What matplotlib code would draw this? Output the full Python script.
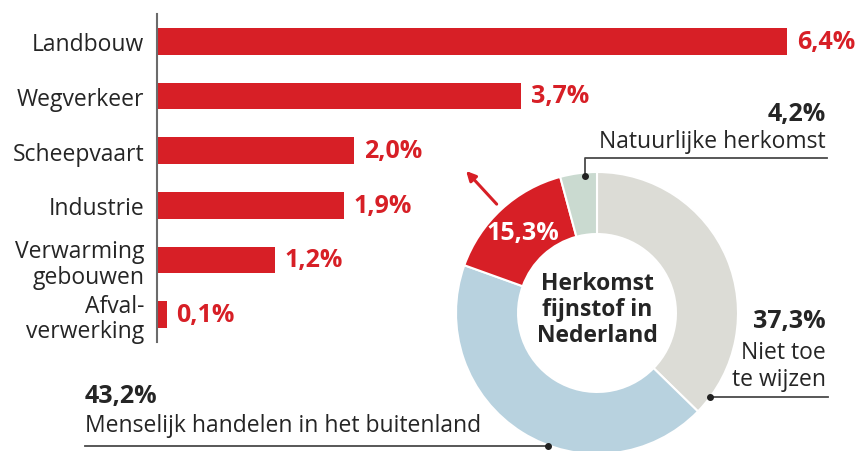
import matplotlib
matplotlib.use('Agg')
import matplotlib.pyplot as plt
import numpy as np

# bar chart: share per Dutch source
sectors = ['Landbouw', 'Wegverkeer', 'Scheepvaart', 'Industrie',
           'Verwarming\ngebouwen', 'Afval-\nverwerking']
sector_share = [6.4, 3.7, 2.0, 1.9, 1.2, 0.1]

# donut: origin of particulate matter
origin_names = ['Niet toe\nte wijzen', 'Menselijk handelen in het buitenland',
                'Nederland', 'Natuurlijke herkomst']
origin_share = [37.3, 43.2, 15.3, 4.2]

RED = '#d71f26'
DARK = '#252525'
LINE = '#4a4a4a'
ring_colors = ['#dcdcd6', '#b8d2df', RED, '#cadad0']

W, H = 860, 452
plt.rcParams['font.family'] = ['Open Sans', 'DejaVu Sans']
fig = plt.figure(figsize=(W / 100, H / 100), dpi=100)

REG = 16.5   # regular text
BIG = 18     # bold percentages


def pct(v):
    return f'{v:.1f}'.replace('.', ',') + '%'


# --- bars
ax = fig.add_axes([157 / W, 1 - 343 / H, (787 - 157) / W, (343 - 15) / H])
y = np.arange(len(sectors))
ax.barh(y, sector_share, height=0.49, color=RED)
ax.set_xlim(0, max(sector_share))
ax.set_ylim(len(sectors) - 0.5, -0.5)
ax.set_yticks(y, sectors, fontsize=REG, color=DARK, linespacing=1.1)
ax.tick_params(axis='y', length=0, pad=9)
ax.set_xticks([])
for side in ['top', 'right', 'bottom']:
    ax.spines[side].set_visible(False)
ax.spines['left'].set_color('#6b6b6b')
ax.spines['left'].set_linewidth(1.5)
ax.patch.set_visible(False)
for yi, v in zip(y, sector_share):
    ax.annotate(pct(v), (v, yi), xytext=(7, 0), textcoords='offset points',
                va='center', ha='left', color=RED, fontweight='bold',
                fontsize=BIG, annotation_clip=False)

# --- donut
R = 141
cx, cy = 597, 314
dax = fig.add_axes([(cx - R) / W, (H - cy - R) / H, 2 * R / W, 2 * R / H])
wedges, _ = dax.pie(origin_share, colors=ring_colors, startangle=90,
                    counterclock=False, radius=1,
                    wedgeprops=dict(width=0.44, edgecolor='white', linewidth=1.5))
dax.set_xlim(-1, 1)
dax.set_ylim(-1, 1)
dax.axis('off')

red = wedges[2]
mid = np.deg2rad((red.theta1 + red.theta2) / 2)
dax.text(0.78 * np.cos(mid), 0.78 * np.sin(mid), pct(origin_share[2]),
         ha='center', va='center', color='white', fontweight='bold', fontsize=BIG)
dax.annotate('', xy=(1.37 * np.cos(mid), 1.37 * np.sin(mid)),
             xytext=(1.05 * np.cos(mid), 1.05 * np.sin(mid)),
             arrowprops=dict(arrowstyle='-|>', color=RED, lw=2.2, mutation_scale=14,
                             shrinkA=0, shrinkB=0),
             annotation_clip=False)
dax.text(0, 0.03, 'Herkomst\nfijnstof in\nNederland', ha='center', va='center',
         color=DARK, fontweight='bold', fontsize=16.5, linespacing=1.12)

# --- callouts (pixel coordinates)
ov = fig.add_axes([0, 0, 1, 1], zorder=5)
ov.set_xlim(0, W)
ov.set_ylim(H, 0)
ov.axis('off')

# natural origin
ov.text(826, 115, pct(origin_share[3]), ha='right', va='center', color=DARK,
        fontweight='bold', fontsize=BIG)
ov.text(826, 142, origin_names[3], ha='right', va='center', color=DARK, fontsize=REG)
ov.plot([827, 585, 585], [159, 159, 177], color=LINE, lw=1.3)
ov.plot([585], [177], 'o', color='#222222', ms=4)

# not attributable
ov.text(826, 322, pct(origin_share[0]), ha='right', va='center', color=DARK,
        fontweight='bold', fontsize=BIG)
ov.text(826, 353, 'Niet toe', ha='right', va='center', color=DARK, fontsize=REG)
ov.text(826, 380, 'te wijzen', ha='right', va='center', color=DARK, fontsize=REG)
ov.plot([828, 710], [398, 398], color=LINE, lw=1.3)
ov.plot([710], [398], 'o', color='#222222', ms=4)

# abroad
ov.text(85, 397, pct(origin_share[1]), ha='left', va='center', color=DARK,
        fontweight='bold', fontsize=BIG)
ov.text(85, 426, origin_names[1], ha='left', va='center', color=DARK, fontsize=REG)
ov.plot([85, 548], [447, 447], color=LINE, lw=1.3)
ov.plot([548], [447], 'o', color='#222222', ms=4)

fig.savefig('out.png', dpi=100)
